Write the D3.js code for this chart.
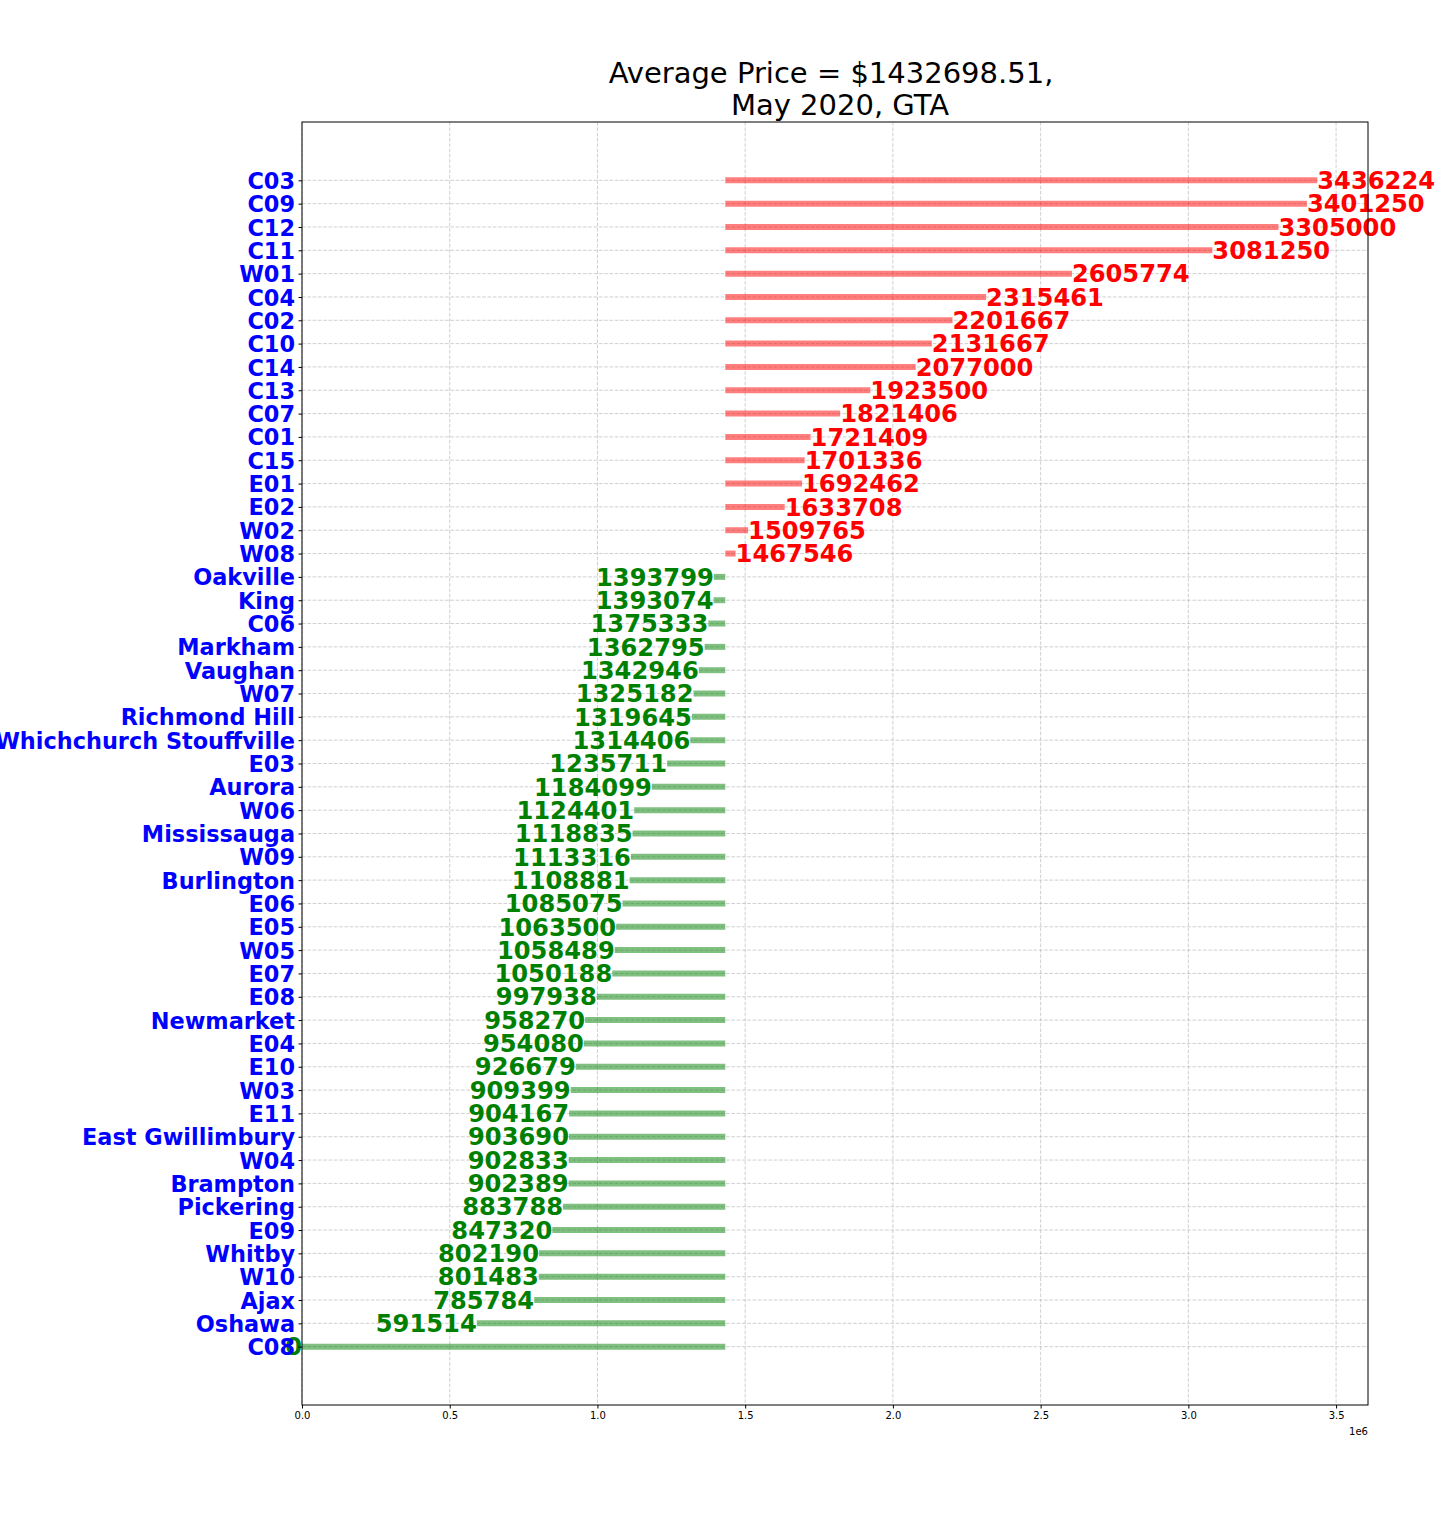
<!DOCTYPE html>
<html><head><meta charset="utf-8">
<script src="https://cdn.jsdelivr.net/npm/d3@7"></script>
<style>body{margin:0;background:#fff}svg{display:block}text{font-family:"DejaVu Sans",sans-serif}</style>
</head><body>
<script>
const categories = ["C03","C09","C12","C11","W01","C04","C02","C10","C14","C13","C07","C01","C15","E01","E02","W02","W08","Oakville","King","C06","Markham","Vaughan","W07","Richmond Hill","Whichchurch Stouffville","E03","Aurora","W06","Mississauga","W09","Burlington","E06","E05","W05","E07","E08","Newmarket","E04","E10","W03","E11","East Gwillimbury","W04","Brampton","Pickering","E09","Whitby","W10","Ajax","Oshawa","C08"];
const prices = [3436224,3401250,3305000,3081250,2605774,2315461,2201667,2131667,2077000,1923500,1821406,1721409,1701336,1692462,1633708,1509765,1467546,1393799,1393074,1375333,1362795,1342946,1325182,1319645,1314406,1235711,1184099,1124401,1118835,1113316,1108881,1085075,1063500,1058489,1050188,997938,958270,954080,926679,909399,904167,903690,902833,902389,883788,847320,802190,801483,785784,591514,0];
const averagePrice = 1432698.51;
const xTicks = [0,500000,1000000,1500000,2000000,2500000,3000000,3500000];
const titleLines = ["Average Price = $1432698.51,","May 2020, GTA"];

const W=1440,H=1527;
const L=302,R=1368,T=122,B=1405;
const svg=d3.select("body").append("svg").attr("width",W).attr("height",H);
const x=d3.scaleLinear().domain([0,3608035]).range([L,R]);
const n=categories.length;
const y=d3.scaleLinear().domain([-2.5,n-1+2.5]).range([B,T]);
const yi=i=>y(n-1-i);

// grid
const g=svg.append("g");
g.selectAll("line.gx").data(xTicks).join("line").attr("x1",d=>x(d)).attr("x2",d=>x(d)).attr("y1",T).attr("y2",B)
 .attr("stroke","#b0b0b0").attr("stroke-opacity",0.6).attr("stroke-dasharray","3.7,1.6").attr("stroke-width",1);
g.selectAll("line.gy").data(categories).join("line").attr("x1",L).attr("x2",R).attr("y1",(d,i)=>yi(i)).attr("y2",(d,i)=>yi(i))
 .attr("stroke","#b0b0b0").attr("stroke-opacity",0.6).attr("stroke-dasharray","3.7,1.6").attr("stroke-width",1);

// lines
svg.append("g").selectAll("line").data(prices).join("line")
 .attr("x1",x(averagePrice)).attr("x2",d=>x(d)).attr("y1",(d,i)=>yi(i)).attr("y2",(d,i)=>yi(i))
 .attr("stroke",d=>d>averagePrice?"red":"green").attr("stroke-opacity",0.5).attr("stroke-width",6);

// value labels
svg.append("g").selectAll("text").data(prices).join("text")
 .attr("x",d=>x(d)).attr("y",(d,i)=>yi(i)).attr("dy","0.36em")
 .attr("text-anchor",d=>d>averagePrice?"start":"end")
 .attr("fill",d=>d>averagePrice?"red":"green")
 .attr("font-size",24.2).attr("font-weight","bold").text(d=>d);

// axes frame
svg.append("rect").attr("x",L).attr("y",T).attr("width",R-L).attr("height",B-T).attr("fill","none").attr("stroke","#000").attr("stroke-width",1);

// x axis
const xa=d3.axisBottom(x).tickValues(xTicks).tickSize(3.5).tickPadding(3.5).tickFormat(d=>(d/1e6).toFixed(1));
const gx=svg.append("g").attr("transform",`translate(0,${B})`).call(xa);
gx.select(".domain").remove();
gx.selectAll("text").attr("font-size",10).attr("font-family","DejaVu Sans").attr("fill","#000");
svg.append("text").attr("x",R).attr("y",B+30).attr("text-anchor","end").attr("font-size",10).text("1e6");

// y axis
const ya=d3.axisLeft(d3.scalePoint().domain(categories).range([yi(0),yi(n-1)])).tickSize(3.5).tickPadding(3.5);
const gy=svg.append("g").attr("transform",`translate(${L},0)`).call(ya);
gy.select(".domain").remove();
gy.selectAll("text").attr("font-size",22.4).attr("font-weight","bold").attr("fill","blue").attr("font-family","DejaVu Sans").attr("dy","0.36em");

// title
const titleX=[831,840];
svg.append("g").selectAll("text").data(titleLines).join("text")
 .attr("x",(d,i)=>titleX[i]).attr("y",(d,i)=>83+i*32).attr("text-anchor","middle").attr("font-size",29).text(d=>d);
</script>
</body></html>
